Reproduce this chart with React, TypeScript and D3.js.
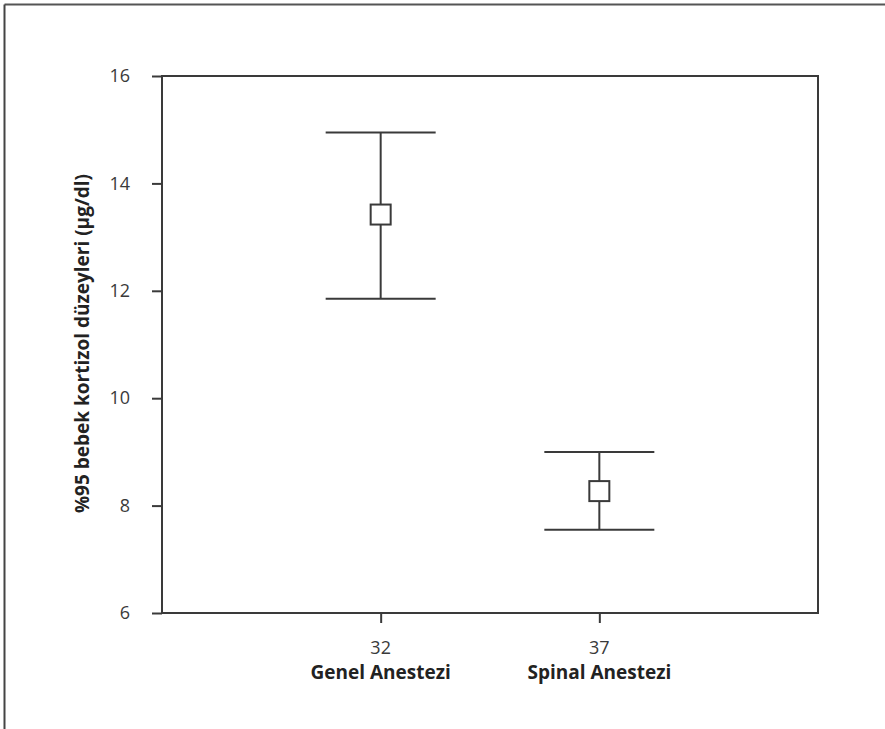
import { useEffect, useRef } from 'react';
import * as d3 from 'd3';

// groups along the x axis
const groups = ['Genel Anestezi', 'Spinal Anestezi'];
const groupN = ['32', '37'];

// mean and 95% CI of infant cortisol (µg/dl)
const means = [13.42, 8.27];
const lower = [11.85, 7.55];
const upper = [14.95, 9.0];

const yTicks = [6, 8, 10, 12, 14, 16];

const FONT = '"Open Sans", "Noto Sans", sans-serif';
const INK = '#3a3a3a';

export default function App() {
  const svgRef = useRef<SVGSVGElement>(null);

  useEffect(() => {
    if (!svgRef.current) return;
    const W = 885;
    const H = 729;
    const margin = { top: 76, right: 67, bottom: 116, left: 162 };
    const width = W - margin.left - margin.right;
    const height = H - margin.top - margin.bottom;

    const svg = d3.select(svgRef.current);
    svg.selectAll('*').remove();

    // outer frame (top + left edge only)
    svg.append('line')
      .attr('x1', 4.5).attr('x2', W).attr('y1', 4.5).attr('y2', 4.5)
      .attr('stroke', '#555').attr('stroke-width', 2);
    svg.append('line')
      .attr('x1', 4.5).attr('x2', 4.5).attr('y1', 4.5).attr('y2', H)
      .attr('stroke', '#444').attr('stroke-width', 2);

    const g = svg.append('g')
      .attr('transform', `translate(${margin.left},${margin.top})`);

    const x = d3.scalePoint<string>()
      .domain(groups)
      .range([0, width])
      .padding(1);

    const y = d3.scaleLinear()
      .domain([6, 16])
      .range([height, 0]);

    // plot box
    g.append('rect')
      .attr('x', 0).attr('y', 0)
      .attr('width', width).attr('height', height)
      .attr('fill', 'none')
      .attr('stroke', INK)
      .attr('stroke-width', 2);

    // y axis
    const yAxis = g.append('g')
      .call(d3.axisLeft(y).tickValues(yTicks).tickSize(10).tickPadding(22).tickFormat(d3.format('d')));
    yAxis.select('.domain').remove();
    yAxis.selectAll('line').attr('stroke', INK).attr('stroke-width', 2);
    yAxis.selectAll('text')
      .attr('font-family', FONT)
      .attr('font-size', '18px')
      .attr('font-weight', 400)
      .attr('fill', '#3a3a3a');

    // x axis
    const xAxis = g.append('g')
      .attr('transform', `translate(0,${height})`)
      .call(d3.axisBottom(x).tickSize(10).tickFormat(() => ''));
    xAxis.select('.domain').remove();
    xAxis.selectAll('line').attr('stroke', INK).attr('stroke-width', 2);

    groups.forEach((grp, i) => {
      g.append('text')
        .attr('x', x(grp)!)
        .attr('y', height + 36)
        .attr('text-anchor', 'middle')
        .attr('dominant-baseline', 'middle')
        .attr('font-family', FONT)
        .attr('font-size', '18px')
        .attr('font-weight', 400)
        .attr('fill', '#3a3a3a')
        .text(groupN[i]);
      g.append('text')
        .attr('x', x(grp)!)
        .attr('y', height + 61)
        .attr('text-anchor', 'middle')
        .attr('dominant-baseline', 'middle')
        .attr('font-family', FONT)
        .attr('font-size', '19px')
        .attr('font-weight', 'bold')
        .attr('fill', '#222')
        .text(grp);
    });

    // y axis title
    g.append('text')
      .attr('transform', `translate(${-78},${height / 2 - 1}) rotate(-90)`)
      .attr('text-anchor', 'middle')
      .attr('dominant-baseline', 'middle')
      .attr('font-family', FONT)
      .attr('font-size', '19px')
      .attr('font-weight', 'bold')
      .attr('fill', '#222')
      .text('%95 bebek kortizol düzeyleri (µg/dl)');

    // error bars
    const capHalf = 55;
    const box = 20;
    const bars = g.selectAll('.ci')
      .data(groups)
      .enter()
      .append('g');

    bars.append('line')
      .attr('x1', d => x(d)!).attr('x2', d => x(d)!)
      .attr('y1', (d, i) => y(upper[i])).attr('y2', (d, i) => y(lower[i]))
      .attr('stroke', INK).attr('stroke-width', 2);
    bars.append('line')
      .attr('x1', d => x(d)! - capHalf).attr('x2', d => x(d)! + capHalf)
      .attr('y1', (d, i) => y(upper[i])).attr('y2', (d, i) => y(upper[i]))
      .attr('stroke', INK).attr('stroke-width', 2);
    bars.append('line')
      .attr('x1', d => x(d)! - capHalf).attr('x2', d => x(d)! + capHalf)
      .attr('y1', (d, i) => y(lower[i])).attr('y2', (d, i) => y(lower[i]))
      .attr('stroke', INK).attr('stroke-width', 2);
    bars.append('rect')
      .attr('x', d => x(d)! - box / 2)
      .attr('y', (d, i) => y(means[i]) - box / 2)
      .attr('width', box).attr('height', box)
      .attr('fill', '#fff')
      .attr('stroke', INK).attr('stroke-width', 2);
  }, []);

  return (
    <svg
      ref={svgRef}
      width={885}
      height={729}
      style={{ position: 'absolute', left: 0, top: 0, background: '#fff' }}
    />
  );
}
